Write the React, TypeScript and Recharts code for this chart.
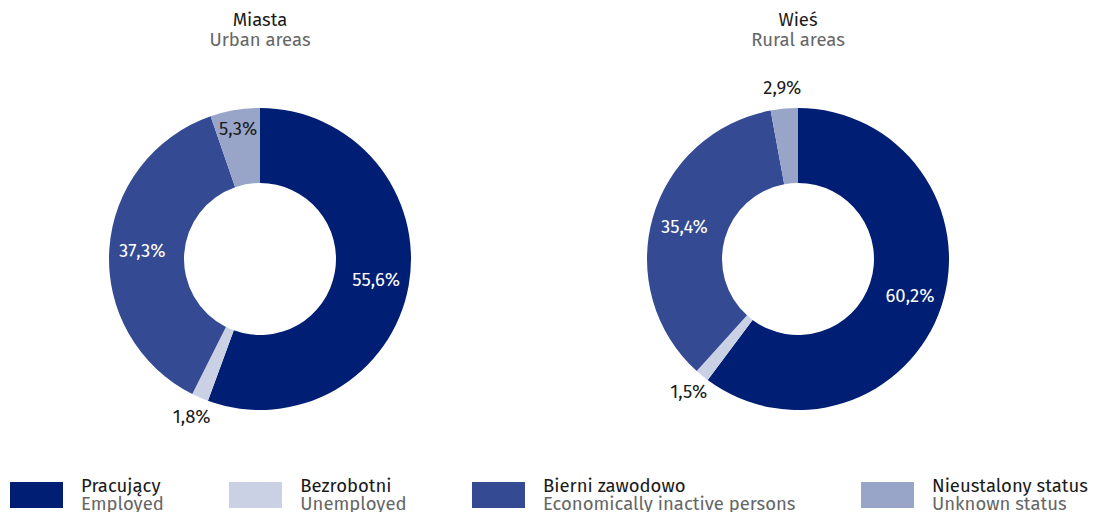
import { PieChart, Pie, Cell } from 'recharts'

// category names (Polish / English)
const CATEGORIES_PL = ['Pracujący', 'Bezrobotni', 'Bierni zawodowo', 'Nieustalony status']
const CATEGORIES_EN = ['Employed', 'Unemployed', 'Economically inactive persons', 'Unknown status']

// shares in %
const URBAN_VALUES = [55.6, 1.8, 37.3, 5.3]
const RURAL_VALUES = [60.2, 1.5, 35.4, 2.9]

const PANEL_TITLES_PL = ['Miasta', 'Wieś']
const PANEL_TITLES_EN = ['Urban areas', 'Rural areas']

const COLORS = ['#001e73', '#cbd1e4', '#344a93', '#98a5c9']
const LABEL_COLORS = ['#ffffff', '#1a1a1a', '#ffffff', '#1a1a1a']

const FONT = "'Fira Sans', 'Open Sans', 'Noto Sans', sans-serif"
const FS = 18.5
const RAD = Math.PI / 180

const W = 1098
const H = 512
const CY = 259
const INNER = 76
const OUTER = 151
const PANEL_X = [260, 798]

const toRows = (values: number[]) =>
  values.map((v, i) => ({ name: CATEGORIES_EN[i], value: v, idx: i }))

const fmt = (v: number) => v.toFixed(1).replace('.', ',') + '%'

function renderLabel(props: any) {
  const { cx, cy, midAngle, value, index } = props
  // small slices get their label outside the ring
  const r = value < 3 ? 172 : value < 10 ? 132 : 118
  const x = cx + r * Math.cos(-midAngle * RAD)
  const y = cy + r * Math.sin(-midAngle * RAD)
  const fill = value < 3 ? '#1a1a1a' : LABEL_COLORS[index]
  return (
    <text
      x={x}
      y={y}
      fill={fill}
      textAnchor="middle"
      dominantBaseline="central"
      fontSize={FS}
      fontFamily={FONT}
    >
      {fmt(value)}
    </text>
  )
}

export default function App() {
  const sets = [URBAN_VALUES, RURAL_VALUES]
  return (
    <div
      style={{
        position: 'absolute',
        left: 0,
        top: 0,
        width: W,
        height: H,
        overflow: 'hidden',
        background: '#fff',
        fontFamily: FONT,
      }}
    >
      {PANEL_X.map((x, i) => (
        <div
          key={i}
          style={{
            position: 'absolute',
            left: x - 150,
            top: 10,
            width: 300,
            textAlign: 'center',
            fontSize: FS,
            lineHeight: '20px',
          }}
        >
          <div style={{ color: '#1a1a1a' }}>{PANEL_TITLES_PL[i]}</div>
          <div style={{ color: '#666666' }}>{PANEL_TITLES_EN[i]}</div>
        </div>
      ))}

      <div style={{ position: 'absolute', left: 0, top: 0 }}>
        <PieChart width={W} height={H} margin={{ top: 0, right: 0, bottom: 0, left: 0 }}>
          {sets.map((values, s) => (
            <Pie
              key={s}
              data={toRows(values)}
              dataKey="value"
              cx={PANEL_X[s]}
              cy={CY}
              innerRadius={INNER}
              outerRadius={OUTER}
              startAngle={90}
              endAngle={-270}
              stroke="none"
              label={renderLabel}
              labelLine={false}
              isAnimationActive={false}
            >
              {values.map((_, i) => (
                <Cell key={i} fill={COLORS[i]} />
              ))}
            </Pie>
          ))}
        </PieChart>
      </div>

      <div
        style={{
          position: 'absolute',
          left: 10,
          top: 478,
          width: 1078,
          display: 'flex',
          justifyContent: 'space-between',
        }}
      >
        {CATEGORIES_PL.map((pl, i) => (
          <div key={i} style={{ display: 'flex', alignItems: 'flex-start' }}>
            <div
              style={{
                width: 53,
                height: 26,
                marginTop: 4,
                background: COLORS[i],
                marginRight: 18,
              }}
            />
            <div style={{ fontSize: FS, lineHeight: '17.5px', whiteSpace: 'nowrap' }}>
              <div style={{ color: '#1a1a1a' }}>{pl}</div>
              <div style={{ color: '#666666' }}>{CATEGORIES_EN[i]}</div>
            </div>
          </div>
        ))}
      </div>
    </div>
  )
}
